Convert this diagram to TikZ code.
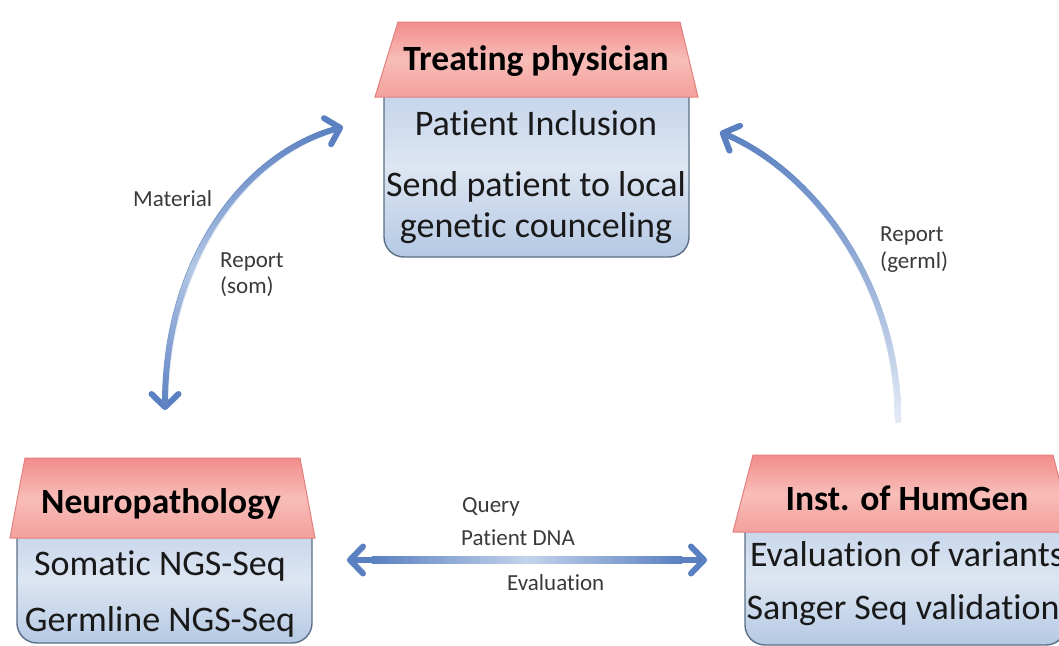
\documentclass[tikz,border=0pt]{standalone}
\usepackage{fontspec}
\setmainfont{Carlito}[Ligatures={NoCommon}]
\usetikzlibrary{arrows.meta,fadings}

\definecolor{arrowblue}{HTML}{5A80C1}
\definecolor{arrowpale}{HTML}{C3D3EB}
\definecolor{arrowwhite}{HTML}{E6EDF7}
\definecolor{bodytop}{HTML}{BFD0E9}
\definecolor{bodymid}{HTML}{DDE6F2}
\definecolor{bodybot}{HTML}{B5C9E4}
\definecolor{bodyline}{HTML}{5B6F86}
\definecolor{roofA}{HTML}{F28D8C}
\definecolor{roofB}{HTML}{F8BDB8}
\definecolor{roofC}{HTML}{F4A09C}
\definecolor{roofline}{HTML}{E3807E}
\definecolor{labelgray}{HTML}{3A3A3A}

% lightening overlays for the curved arrows (middle colour set last)
\tikzfading[name=pale middle v, top color=transparent!100, bottom color=transparent!100, middle color=transparent!15]
\tikzfading[name=pale bottom, top color=transparent!100, bottom color=transparent!0, middle color=transparent!55]

\tikzset{
  bodybox/.style={draw=bodyline, line width=1.4pt, rounded corners=20pt,
    top color=bodytop, bottom color=bodybot, middle color=bodymid},
  roofbox/.style={draw=roofline, line width=1pt,
    top color=roofA, bottom color=roofC, middle color=roofB},
  rooftext/.style={anchor=base, inner sep=0pt, text=black,
    font=\fontsize{35.5}{40}\selectfont\bfseries},
  bodytext/.style={anchor=base, inner sep=0pt, text=black!90,
    font=\fontsize{36}{40}\selectfont},
  flowlabel/.style={anchor=base west, inner sep=0pt, text=labelgray,
    font=\fontsize{23}{26}\selectfont},
  barb/.tip={Straight Barb[length=13pt, width=27pt, round]},
  flow/.style={draw=arrowblue, line width=6pt, line cap=round},
  paleover/.style={line width=6.6pt, line cap=round},
}

\begin{document}
\begin{tikzpicture}[x=1pt, y=-1pt]
\useasboundingbox (0,0) rectangle (1059,645);
\clip (0,0) rectangle (1059,645);
\fill[white] (0,0) rectangle (1059,645);

% ---- Treating physician ----
\path[bodybox] (384,75) rectangle (689,257);
\path[roofbox] (398,22) -- (680,22) -- (698,97) -- (375,97) -- cycle;
\node[rooftext] (tphead) at (536,70) {Treating physician};
\node[bodytext] (tpl1) at (536,135) {Patient Inclusion};
\node[bodytext] (tpl2) at (536,196) {Send patient to local};
\node[bodytext] (tpl3) at (536,237) {genetic counceling};

% ---- Neuropathology ----
\path[bodybox] (17,515) rectangle (312,643);
\path[roofbox] (25,458) -- (300,458) -- (315,538) -- (10,538) -- cycle;
\node[rooftext] (nphead) at (161,513) {Neuropathology};
\node[bodytext] (npl1) at (160,575) {Somatic NGS-Seq};
\node[bodytext] (npl2) at (160,631) {Germline NGS-Seq};

% ---- Inst. of HumGen ----
\path[bodybox] (745,510) rectangle (1066,645);
\path[roofbox] (753,455) -- (1053,455) -- (1073,532) -- (733,532) -- cycle;
\node[rooftext] (hghead) at (907,510) {Inst. of HumGen};
\node[bodytext] (hgl1) at (907,566) {Evaluation of variants};
\node[bodytext] (hgl2) at (903,619) {Sanger Seq validation};

% ---- arrow end points ----
\coordinate (npTop) at (165,410);
\coordinate (tpLeft) at (343,127);
\coordinate (hgTop) at (898,420);
\coordinate (tpRight) at (720,132);
\coordinate (npRight) at (347,560);
\coordinate (hgLeft) at (707,560);

% Material / Report (som)
\draw[flow, barb-barb] (npTop) .. controls (165,260) and (244,154) .. (tpLeft);
\draw[paleover, draw=arrowpale, path fading=pale middle v]
  (npTop) .. controls (165,260) and (244,154) .. (tpLeft);

% Report (germl)
\draw[flow, -barb] (hgTop) .. controls (898,280) and (810,170) .. (tpRight);
\draw[paleover, draw=arrowwhite, path fading=pale bottom]
  (hgTop) .. controls (898,280) and (810,170) .. (tpRight);

% Query / Patient DNA / Evaluation
\draw[flow, barb-barb] (npRight) -- (hgLeft);
\shade[left color=arrowblue, right color=arrowblue, middle color=arrowpale]
  (372,556.7) rectangle (682,563.3);

% ---- labels ----
\node[flowlabel] (lmat) at (133,206) {Material};
\node[flowlabel] (lsom1) at (220,267) {Report};
\node[flowlabel] (lsom2) at (220,293) {(som)};
\node[flowlabel] (lgerm1) at (880,241) {Report};
\node[flowlabel] (lgerm2) at (880,268) {(germl)};
\node[flowlabel] (lquery) at (462,512) {Query};
\node[flowlabel] (ldna) at (461,545) {Patient DNA};
\node[flowlabel] (leval) at (507,590) {Evaluation};
\end{tikzpicture}
\end{document}
